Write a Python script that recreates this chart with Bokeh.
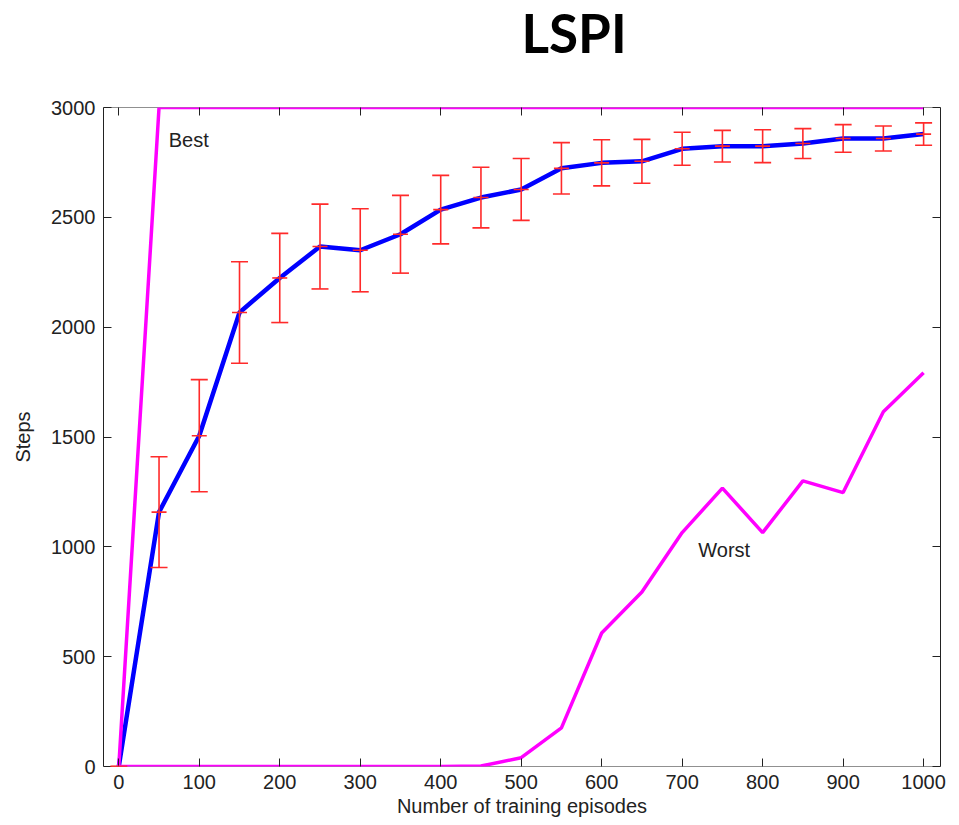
from bokeh.plotting import figure
from bokeh.models import (LinearAxis, FixedTicker, Range1d, ColumnDataSource,
                          Whisker, TeeHead, Span)
from bokeh.core.properties import value
from bokeh.embed import file_html
from bokeh.resources import INLINE

# Learning curve data: steps balanced vs. number of training episodes
episodes = [0, 50, 100, 150, 200, 250, 300, 350, 400, 450, 500,
            550, 600, 650, 700, 750, 800, 850, 900, 950, 1000]
mean_steps = [0, 1158, 1506, 2067, 2224, 2367, 2350, 2423, 2535, 2590, 2627,
              2723, 2748, 2755, 2812, 2824, 2824, 2836, 2859, 2859, 2879]
std_steps = [0, 252, 255, 231, 203, 193, 189, 177, 156, 138, 141,
             117, 105, 100, 75, 72, 75, 68, 63, 57, 51]
best_steps = [0, 3000, 3000, 3000, 3000, 3000, 3000, 3000, 3000, 3000, 3000,
              3000, 3000, 3000, 3000, 3000, 3000, 3000, 3000, 3000, 3000]
worst_steps = [0, 0, 0, 0, 0, 0, 0, 0, 0, 2, 40,
               176, 608, 794, 1065, 1267, 1065, 1300, 1247, 1615, 1792]

x_ticks = [0, 100, 200, 300, 400, 500, 600, 700, 800, 900, 1000]
y_ticks = [0, 500, 1000, 1500, 2000, 2500, 3000]

FONT = "Liberation Sans"
INK = "#222222"
RED = "#ff2a2a"
MAGENTA = "#ff00ff"
BLUE = "#0000ff"

src = ColumnDataSource(dict(
    x=episodes,
    mean=mean_steps,
    upper=[m + s for m, s in zip(mean_steps, std_steps)],
    lower=[m - s for m, s in zip(mean_steps, std_steps)],
    best=best_steps,
    worst=worst_steps,
))

p = figure(width=959, height=825,
           x_range=Range1d(-19, 1021), y_range=Range1d(0, 3000),
           output_backend="svg", toolbar_location=None,
           min_border_left=103, min_border_right=19,
           min_border_top=107, min_border_bottom=59)
p.background_fill_color = "white"
p.border_fill_color = "white"
p.outline_line_color = None
p.xgrid.visible = False
p.ygrid.visible = False

p.title.text = "LSPI"
p.title.text_font = "Lato"
p.title.text_font_style = "bold"
p.title.text_font_size = "53px"
p.title.text_color = "black"
p.title.align = "left"
p.title.offset = 418
p.title.vertical_align = "top"
p.title.standoff = 0
p.title.padding = (0, 0, 0, 42)


def style_axis(ax, ticks):
    ax.ticker = FixedTicker(ticks=ticks)
    ax.major_tick_in = 8
    ax.major_tick_out = 0
    ax.minor_tick_in = 0
    ax.minor_tick_out = 0
    ax.axis_line_color = INK
    ax.major_tick_line_color = INK
    ax.major_label_text_font = FONT
    ax.major_label_text_color = INK
    ax.major_label_text_font_size = "20px"
    ax.major_label_standoff = 8
    ax.axis_label_text_font = FONT
    ax.axis_label_text_font_size = "20px"
    ax.axis_label_text_font_style = "normal"
    ax.axis_label_text_color = INK


def tick_only_axis(ticks):
    # mirrored box ticks without labels
    ax = LinearAxis(ticker=FixedTicker(ticks=[], minor_ticks=ticks))
    ax.major_tick_in = 0
    ax.major_tick_out = 0
    ax.minor_tick_in = 8
    ax.minor_tick_out = 0
    ax.minor_tick_line_color = INK
    ax.axis_line_color = INK
    ax.major_label_standoff = 0
    return ax


xax = p.xaxis[0]
yax = p.yaxis[0]
style_axis(xax, x_ticks)
style_axis(yax, y_ticks)
xax.axis_label = "Number of training episodes"
yax.axis_label = "Steps"
xax.axis_label_standoff = 3
yax.axis_label_standoff = 14
yax.major_label_orientation = "horizontal"
# bottom spine is drawn underneath the curves instead
xax.axis_line_color = None

top_ax = tick_only_axis(x_ticks)
top_ax.axis_line_color = None
p.add_layout(top_ax, "above")
p.add_layout(tick_only_axis(y_ticks), "right")

p.add_layout(Span(location=0, dimension="width", line_color=INK,
                  line_width=1, level="underlay"))
p.add_layout(Span(location=3000, dimension="width", line_color=INK,
                  line_width=1, level="underlay"))

# mean curve
p.line("x", "mean", source=src, line_color=BLUE, line_width=4.5)

# standard deviation error bars
whisk = Whisker(base="x", upper="upper", lower="lower", source=src,
                line_color=RED, line_width=1.6,
                upper_head=TeeHead(size=17, line_color=RED, line_width=1.6),
                lower_head=TeeHead(size=17, line_color=RED, line_width=1.6))
whisk.level = "annotation"
p.add_layout(whisk)
p.scatter("x", "mean", source=src, marker="dash", size=15,
          line_color=RED, line_width=1.6)

# best and worst runs
p.line("x", "best", source=src, line_color=MAGENTA, line_width=3.5)
p.line("x", "worst", source=src, line_color=MAGENTA, line_width=3.5)

p.text(x=[62], y=[2850], text=["Best"], text_font=value(FONT),
       text_font_size="20px", text_color=INK,
       text_align="left", text_baseline="middle")
p.text(x=[720], y=[985], text=["Worst"], text_font=value(FONT),
       text_font_size="20px", text_color=INK,
       text_align="left", text_baseline="middle")

open("out.html", "w").write(file_html(p, INLINE))
